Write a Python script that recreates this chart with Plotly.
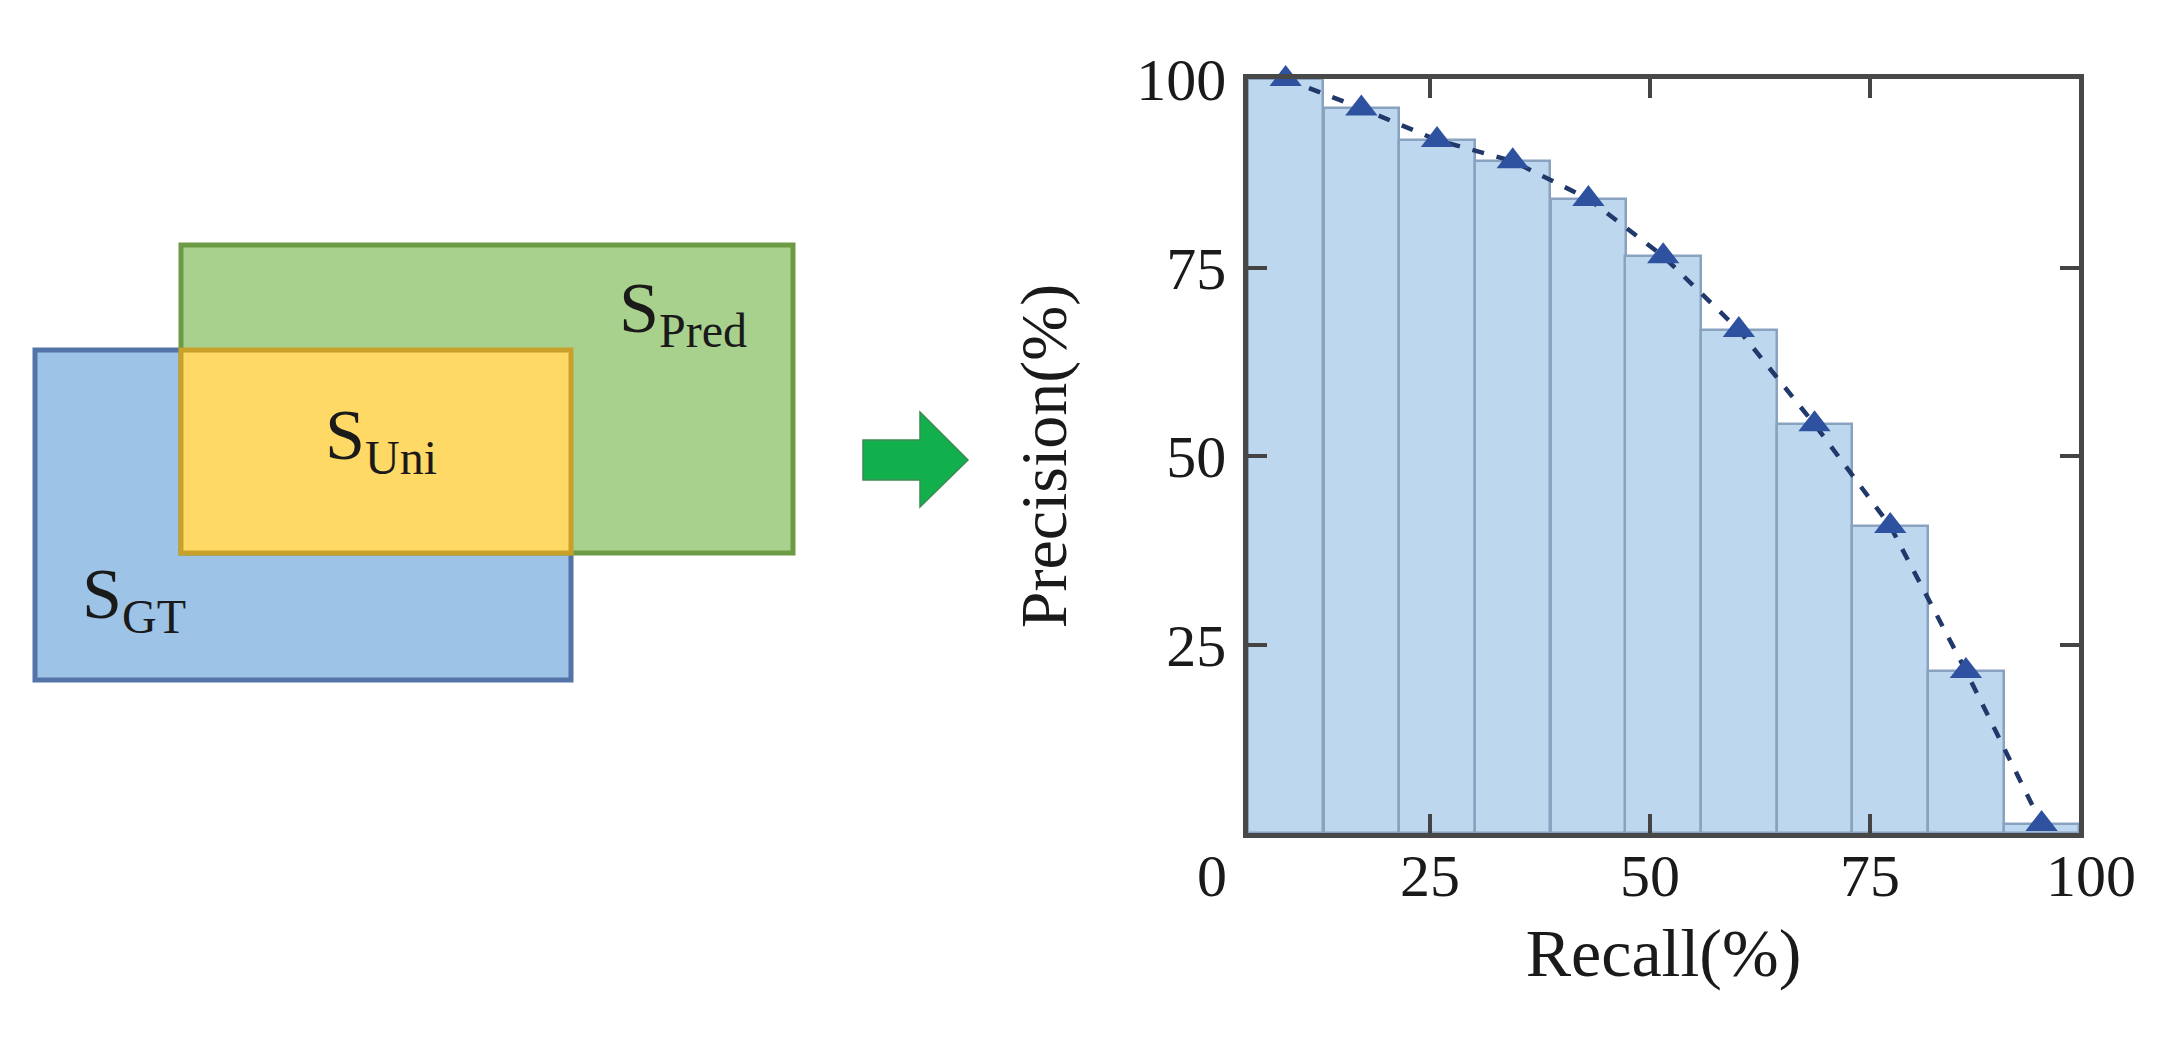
import plotly.graph_objects as go

# ---------------- data ----------------
recall = [8.6, 17.2, 25.8, 34.4, 43.0, 51.5, 60.1, 68.7, 77.3, 85.9, 94.5]
precision = [100.0, 96.1, 91.9, 89.1, 84.1, 76.5, 66.7, 54.2, 40.7, 21.5, 1.2]
bar_width = 8.585

x_tick_vals = [4.32, 25, 50, 75, 98.75]
x_tick_text = ["0\u2003\u2009", "25", "50", "75", "\u2009\u2009100"]
y_tick_vals = [25, 50, 75, 100]
y_tick_text = ["25", "50", "75", "100"]

# diagram (left side) geometry in page pixels: name, x0, y0, x1, y1, fill, line
diagram_boxes = [
    ("GT", 35, 350, 571, 680, "#9dc3e6", "#5473a8"),
    ("Pred", 181, 245, 793, 553, "#a9d18e", "#6d9b45"),
    ("Uni", 181, 350, 571, 553, "#ffd966", "#c9a02a"),
]
diagram_labels = [
    ("S", "Pred", 617, 312),
    ("S", "Uni", 323, 440),
    ("S", "GT", 80, 598),
]
arrow_pts = [(863, 440), (920, 440), (920, 412), (968, 460), (920, 507), (920, 480), (863, 480)]

W, H = 2161, 1042
plot_px = (1248, 79, 2079, 833)  # left, top, right, bottom


def px(x):
    return x / W


def py(y):
    return 1 - y / H


FONT = "Liberation Serif"
TXT = "#1a1a1a"

fig = go.Figure()
fig.add_trace(go.Bar(
    x=recall, y=precision, width=bar_width,
    marker=dict(color="#bdd7ee", line=dict(color="#88a2bf", width=2.5)),
    showlegend=False,
))
fig.add_trace(go.Scatter(
    x=recall, y=precision, mode="lines+markers",
    line=dict(color="#20386a", width=4.5, dash="12px,13px"),
    marker=dict(symbol="triangle-up", size=28, color="#2f52a0"),
    cliponaxis=False, showlegend=False,
))

shapes = []
for name, x0, y0, x1, y1, fill, line in diagram_boxes:
    shapes.append(dict(type="rect", xref="paper", yref="paper",
                       x0=px(x0), x1=px(x1), y0=py(y1), y1=py(y0),
                       fillcolor=fill, line=dict(color=line, width=5), layer="above"))
path = "M " + " L ".join(f"{px(x):.5f},{py(y):.5f}" for x, y in arrow_pts) + " Z"
shapes.append(dict(type="path", xref="paper", yref="paper", path=path,
                   fillcolor="#12b04c", line=dict(color="#3c8a52", width=1.5), layer="above"))

annotations = []
for main, sub, x, y in diagram_labels:
    annotations.append(dict(text=f"{main}<sub><span style='font-size:48px'>{sub}</span></sub>",
                            x=px(x), y=py(y), xref="paper", yref="paper",
                            xanchor="left", yanchor="middle", showarrow=False,
                            font=dict(family=FONT, size=72, color=TXT)))

axis_common = dict(
    showline=True, linecolor="#484848", linewidth=4.5, mirror="ticks",
    ticks="inside", ticklen=19, tickwidth=4, tickcolor="#444444",
    showgrid=False, zeroline=False, automargin=False,
    tickfont=dict(family=FONT, size=60, color=TXT),
)

fig.update_layout(
    template="none",
    width=W, height=H, autosize=False,
    margin=dict(l=0, r=0, t=0, b=0, pad=0, autoexpand=False),
    paper_bgcolor="white", plot_bgcolor="white",
    bargap=0,
    xaxis=dict(domain=[px(plot_px[0]), px(plot_px[2])], range=[4.32, 98.75],
               tickmode="array", tickvals=x_tick_vals, ticktext=x_tick_text,
               ticklabelstandoff=-14,
               title=dict(text="Recall(%)", font=dict(family=FONT, size=68, color=TXT), standoff=22),
               **axis_common),
    yaxis=dict(domain=[py(plot_px[3]), py(plot_px[1])], range=[0, 100],
               tickmode="array", tickvals=y_tick_vals, ticktext=y_tick_text,
               ticklabelstandoff=5,
               title=dict(text="Precision(%)", font=dict(family=FONT, size=66, color=TXT), standoff=50),
               **axis_common),
    shapes=shapes,
    annotations=annotations,
)

fig.write_html("out.html", config={"displayModeBar": False},
               post_script="document.body.style.margin='0';")
